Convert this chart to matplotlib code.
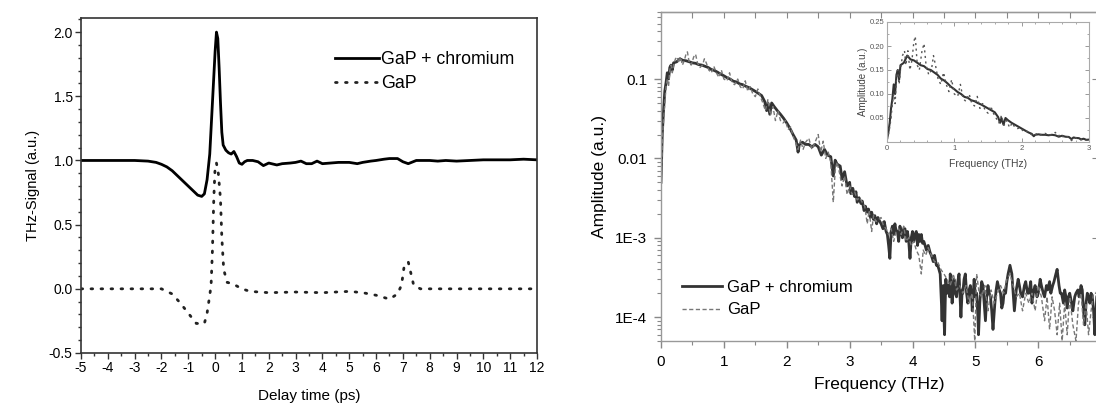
import numpy as np
import matplotlib
matplotlib.use('Agg')
import matplotlib.pyplot as plt
from matplotlib.ticker import MultipleLocator, LogLocator, NullFormatter, FixedLocator, FixedFormatter

plt.rcParams['font.family'] = ['Liberation Sans', 'DejaVu Sans']
plt.rcParams['axes.unicode_minus'] = False

# ---- left panel: time-domain THz signal ----
t_cr = [-5.0, -4.0, -3.0, -2.5, -2.2, -2.0, -1.8, -1.6, -1.4, -1.2, -1.0, -0.8, -0.65,
        -0.5, -0.4, -0.3, -0.2, -0.1, 0.0, 0.05, 0.1, 0.15, 0.2, 0.25, 0.3, 0.4, 0.5,
        0.6, 0.7, 0.8, 0.9, 1.0, 1.1, 1.2, 1.4, 1.6, 1.8, 2.0, 2.1, 2.3, 2.5, 2.8, 3.0,
        3.2, 3.4, 3.6, 3.8, 4.0, 4.3, 4.6, 5.0, 5.3, 5.5, 5.8, 6.0, 6.3, 6.5, 6.8, 7.0,
        7.2, 7.5, 8.0, 8.3, 8.6, 9.0, 9.5, 10.0, 10.5, 11.0, 11.5, 12.0]
sig_cr = [1.0, 1.0, 1.0, 0.995, 0.985, 0.97, 0.95, 0.92, 0.88, 0.84, 0.80, 0.76, 0.73,
          0.72, 0.74, 0.85, 1.05, 1.45, 1.85, 2.0, 1.95, 1.72, 1.45, 1.22, 1.12, 1.08, 1.06,
          1.05, 1.07, 1.03, 0.98, 0.97, 0.99, 1.0, 1.0, 0.99, 0.96, 0.98, 0.975, 0.965, 0.975, 0.98, 0.985,
          0.995, 0.975, 0.975, 0.995, 0.975, 0.98, 0.985, 0.985, 0.975, 0.985, 0.995, 1.0, 1.01, 1.015, 1.015, 0.99,
          0.975, 1.0, 1.0, 0.995, 1.0, 0.995, 1.0, 1.005, 1.005, 1.005, 1.01, 1.005]

t_gap = [-5.0, -4.0, -3.0, -2.0, -1.6, -1.3, -1.0, -0.7, -0.4, -0.3, -0.25, -0.2, -0.15,
         -0.1, -0.05, 0.0, 0.05, 0.12, 0.2, 0.25, 0.32, 0.45, 0.65, 1.0, 1.3, 2.0, 3.0,
         4.0, 5.0, 5.5, 6.0, 6.5, 6.8, 6.95, 7.05, 7.2, 7.4, 7.65, 8.0, 9.0, 10.0, 11.0, 12.0]
sig_gap = [0.0, 0.0, 0.0, 0.0, -0.04, -0.11, -0.19, -0.27, -0.27, -0.19, -0.12, -0.05, 0.03,
           0.3, 0.7, 0.95, 0.98, 0.9, 0.7, 0.4, 0.15, 0.05, 0.04, 0.0, -0.02, -0.03, -0.025,
           -0.03, -0.02, -0.03, -0.05, -0.08, -0.04, 0.03, 0.18, 0.21, 0.03, 0.0, 0.0, 0.0, 0.0, 0.0, 0.0]

# ---- right panel: amplitude spectra ----
f_cr = [0.00, 0.02, 0.04, 0.06, 0.08, 0.10, 0.12, 0.14, 0.16, 0.18, 0.20, 0.25, 0.30, 0.35, 0.40,
        0.45, 0.50, 0.55, 0.60, 0.65, 0.70, 0.75, 0.80, 0.85, 0.90, 0.95, 1.00, 1.05, 1.10, 1.15,
        1.20, 1.25, 1.30, 1.35, 1.40, 1.45, 1.50, 1.55, 1.60, 1.65, 1.68, 1.70, 1.73, 1.76, 1.80,
        1.85, 1.90, 1.95, 2.00, 2.05, 2.10, 2.15, 2.18, 2.20, 2.25, 2.30, 2.35, 2.40, 2.45, 2.50,
        2.55, 2.60, 2.65, 2.70, 2.74, 2.77, 2.80, 2.85, 2.88, 2.92,
        2.96, 3.00, 3.02, 3.05, 3.08, 3.10, 3.12, 3.15, 3.18, 3.20, 3.23, 3.25, 3.28, 3.30, 3.33,
        3.35, 3.38, 3.40, 3.43, 3.45, 3.48, 3.50, 3.53, 3.55, 3.58, 3.60, 3.62, 3.64, 3.66, 3.68,
        3.70, 3.72, 3.74, 3.76, 3.78, 3.80, 3.82, 3.84, 3.86, 3.88, 3.90, 3.92, 3.94, 3.96, 3.98,
        4.00, 4.02, 4.04, 4.06, 4.08, 4.10, 4.12, 4.14, 4.16, 4.18, 4.20, 4.22, 4.25, 4.28, 4.30,
        4.33, 4.35, 4.38, 4.40, 4.42, 4.44, 4.46, 4.47, 4.48, 4.49, 4.50, 4.51, 4.52, 4.53, 4.55,
        4.57, 4.59, 4.60, 4.62, 4.63, 4.65, 4.66, 4.68, 4.70, 4.72, 4.74, 4.76, 4.77, 4.79, 4.80,
        4.82, 4.84, 4.86, 4.88, 4.90, 4.92, 4.94, 4.95, 4.97, 4.98, 5.00, 5.02, 5.04, 5.05, 5.07,
        5.08, 5.10, 5.12, 5.14, 5.16, 5.18, 5.20, 5.22, 5.24, 5.26, 5.28, 5.30, 5.31, 5.33, 5.35,
        5.38, 5.40, 5.42, 5.44, 5.46, 5.48, 5.50, 5.52, 5.55, 5.58, 5.60, 5.62, 5.64, 5.65, 5.68,
        5.70, 5.72, 5.75, 5.78, 5.80, 5.83, 5.85, 5.88, 5.90, 5.93, 5.95, 5.98, 6.00, 6.03, 6.05,
        6.08, 6.10, 6.13, 6.15, 6.18, 6.20, 6.23, 6.25, 6.28, 6.30, 6.33, 6.35, 6.37, 6.40, 6.42,
        6.44, 6.46, 6.48, 6.50, 6.53, 6.55, 6.58, 6.60, 6.63, 6.65, 6.68, 6.70, 6.72, 6.74, 6.76,
        6.78, 6.80, 6.82, 6.84, 6.86, 6.88, 6.90, 6.92, 6.93, 6.95, 6.97]
amp_cr = [0.005, 0.02, 0.04, 0.07, 0.09, 0.12, 0.10, 0.14, 0.15, 0.13, 0.16, 0.165, 0.18, 0.172, 0.17,
          0.165, 0.16, 0.158, 0.152, 0.15, 0.145, 0.14, 0.132, 0.128, 0.122, 0.115, 0.11, 0.104, 0.10, 0.094,
          0.092, 0.087, 0.085, 0.081, 0.078, 0.074, 0.07, 0.066, 0.062, 0.052, 0.04, 0.05, 0.036, 0.05, 0.045,
          0.04, 0.036, 0.032, 0.028, 0.024, 0.02, 0.017, 0.012, 0.015, 0.016, 0.015, 0.015, 0.014, 0.015, 0.014,
          0.011, 0.013, 0.011, 0.0105, 0.006, 0.0095, 0.0085, 0.008, 0.0055, 0.0068,
          0.0045, 0.005, 0.0036, 0.0042, 0.0033, 0.0038, 0.0028, 0.0032, 0.0027, 0.0029, 0.0022, 0.0025, 0.0021, 0.0023, 0.0018,
          0.0021, 0.0017, 0.0019, 0.0015, 0.0018, 0.0016, 0.0015, 0.0013, 0.0016, 0.0012, 0.0011, 0.0008, 0.00055, 0.0012, 0.0014,
          0.0011, 0.0015, 0.0012, 0.0012, 0.0009, 0.0014, 0.0012, 0.0010, 0.0013, 0.0013, 0.0009, 0.0012, 0.0009, 0.00055, 0.0010,
          0.0012, 0.0009, 0.0011, 0.0012, 0.0008, 0.0011, 0.0009, 0.0011, 0.00085, 0.0009, 0.0008, 0.0007, 0.0008, 0.00065, 0.0006,
          0.0005, 0.0006, 0.00045, 0.00045, 0.0004, 0.00035, 0.00015, 0.00009, 0.0002, 0.00025, 0.0001, 0.00006, 0.00015, 0.0003, 0.0002,
          0.00025, 0.00018, 0.00035, 0.0002, 0.00015, 0.00025, 0.0003, 0.0002, 0.00018, 0.00028, 0.00035, 0.00015, 0.0001, 0.00022, 0.0002,
          0.0003, 0.00035, 0.0002, 0.00015, 0.00022, 0.00025, 0.00018, 0.00012, 0.00022, 0.0003, 0.00018, 0.0002, 0.0001, 0.00006, 0.00015,
          0.0002, 0.00028, 0.00025, 0.00015, 0.00009, 0.00018, 0.00025, 0.0002, 0.00018, 0.00012, 0.00007, 0.00012, 0.00015, 0.00022, 0.00028,
          0.00022, 0.0002, 0.00013, 0.00015, 0.00022, 0.0002, 0.00028, 0.00035, 0.00045, 0.00035, 0.0002, 0.00012, 0.00018, 0.00022, 0.0003,
          0.00025, 0.0002, 0.00018, 0.00025, 0.00028, 0.0002, 0.0002, 0.00028, 0.00015, 0.00022, 0.00025, 0.00018, 0.0002, 0.0003, 0.00025,
          0.0002, 0.00018, 0.00025, 0.00022, 0.00028, 0.0002, 0.00025, 0.00028, 0.00035, 0.0004, 0.00025, 0.0002, 0.0002, 0.00015, 0.00022,
          0.00018, 0.00013, 0.00018, 0.0002, 0.00015, 0.00012, 0.00018, 0.0002, 0.00022, 0.00018, 0.00025, 0.00022, 0.00012, 0.00008, 0.00015,
          0.0002, 0.00018, 0.00015, 0.0002, 0.00018, 0.00012, 0.00006, 0.00012, 0.00018, 0.0002, 0.00015]

f_gap = [0.00, 0.02, 0.04, 0.06, 0.08, 0.10, 0.12, 0.14, 0.16, 0.18, 0.20, 0.23, 0.26, 0.28, 0.31,
         0.34, 0.37, 0.40, 0.42, 0.45, 0.48, 0.52, 0.55, 0.58, 0.62, 0.66, 0.69, 0.72, 0.76, 0.80,
         0.84, 0.88, 0.92, 0.96, 1.00, 1.05, 1.09, 1.13, 1.17, 1.22, 1.26, 1.30, 1.34, 1.38, 1.42,
         1.46, 1.50, 1.54, 1.58, 1.62, 1.66, 1.70, 1.74, 1.78, 1.82, 1.86, 1.90, 1.94, 1.98, 2.02,
         2.06, 2.10, 2.14, 2.18, 2.22, 2.26, 2.30, 2.35, 2.40, 2.45, 2.50, 2.54, 2.58, 2.62, 2.66,
         2.70, 2.74, 2.77, 2.80, 2.84, 2.88, 2.92, 2.96, 3.00, 3.04, 3.08, 3.12, 3.16, 3.20, 3.24,
         3.28, 3.31, 3.35, 3.38, 3.42, 3.46, 3.50, 3.54, 3.58, 3.62, 3.66, 3.70, 3.74, 3.78, 3.82,
         3.86, 3.90, 3.94, 3.98, 4.02, 4.06, 4.10, 4.14, 4.17, 4.21, 4.25, 4.30, 4.35, 4.40, 4.45,
         4.50, 4.55, 4.60, 4.65, 4.70, 4.75, 4.80, 4.85, 4.90, 4.95, 4.99, 5.02, 5.06, 5.10, 5.15,
         5.20, 5.25, 5.30, 5.35, 5.40, 5.45, 5.50, 5.55, 5.60, 5.65, 5.70, 5.75, 5.80, 5.85, 5.90,
         5.95, 6.00, 6.05, 6.10, 6.14, 6.18, 6.22, 6.26, 6.30, 6.34, 6.38, 6.42, 6.46, 6.50, 6.55,
         6.60, 6.64, 6.68, 6.72, 6.76, 6.80, 6.84, 6.88, 6.92, 6.96]
amp_gap = [0.004, 0.015, 0.03, 0.05, 0.08, 0.10, 0.08, 0.13, 0.15, 0.12, 0.15, 0.18, 0.19, 0.16, 0.19,
           0.15, 0.17, 0.21, 0.22, 0.16, 0.15, 0.19, 0.205, 0.16, 0.14, 0.15, 0.18, 0.16, 0.13, 0.12,
           0.145, 0.12, 0.105, 0.13, 0.10, 0.095, 0.12, 0.09, 0.085, 0.10, 0.08, 0.075, 0.095, 0.07, 0.08,
           0.065, 0.06, 0.075, 0.06, 0.05, 0.04, 0.055, 0.035, 0.045, 0.03, 0.04, 0.03, 0.028, 0.03, 0.023,
           0.025, 0.019, 0.016, 0.013, 0.017, 0.013, 0.016, 0.018, 0.013, 0.016, 0.02, 0.012, 0.0165, 0.01, 0.012,
           0.009, 0.0028, 0.007, 0.009, 0.0065, 0.0045, 0.006, 0.0035, 0.0045, 0.0035, 0.0038, 0.003, 0.0032, 0.0028, 0.0025,
           0.0015, 0.0022, 0.0012, 0.0019, 0.0016, 0.0017, 0.0018, 0.0014, 0.0013, 0.0011, 0.0013, 0.0009, 0.0012, 0.0013, 0.0011,
           0.0014, 0.0009, 0.0010, 0.0008, 0.0009, 0.0007, 0.0006, 0.00035, 0.0007, 0.0006, 0.00075, 0.0006, 0.0005, 0.0005, 0.0004,
           0.00035, 0.0003, 0.00025, 0.00035, 0.00022, 0.00025, 0.0002, 0.00025, 0.00015, 0.0002, 0.00005, 0.00035, 0.0002, 0.00018, 0.00025,
           0.00012, 0.00022, 0.00015, 0.0002, 0.00025, 0.0002, 0.0003, 0.00035, 0.00025, 0.00018, 0.0002, 0.00012, 0.0002, 0.00015, 0.0002,
           0.00012, 0.00025, 0.00018, 0.00009, 0.00018, 0.00007, 0.00018, 0.00012, 0.00006, 0.00015, 0.00005, 0.00015, 0.00006, 0.00018, 0.00008,
           0.00005, 0.00015, 0.0002, 0.00008, 0.00015, 0.00006, 0.00012, 0.0002, 0.0002, 0.00025]

W, H = 1096, 403
fig = plt.figure(figsize=(W / 100, H / 100), dpi=100)

# left panel
ax1 = fig.add_axes([81 / W, (H - 353) / H, 456 / W, 335 / H])
ax1.plot(t_cr, sig_cr, color='black', lw=2.0, label='GaP + chromium')
ax1.plot(t_gap, sig_gap, color='#222222', lw=2.0, linestyle=(0, (0.6, 3.0)),
         dash_capstyle='round', label='GaP')
ax1.set_xlim(-5, 12)
ax1.set_ylim(-0.5, 2.11)
ax1.xaxis.set_major_locator(MultipleLocator(1))
ax1.xaxis.set_minor_locator(MultipleLocator(0.5))
ax1.yaxis.set_major_locator(MultipleLocator(0.5))
ax1.yaxis.set_minor_locator(MultipleLocator(0.1))
ax1.yaxis.set_major_formatter(plt.FormatStrFormatter('%.1f'))
ax1.tick_params(which='both', direction='out', width=1.0, labelsize=10, color='#333333', pad=2)
ax1.tick_params(which='major', length=4)
ax1.tick_params(which='minor', length=2.5)
for sp in ax1.spines.values():
    sp.set_linewidth(1.2)
    sp.set_color('#333333')
ax1.set_xlabel('Delay time (ps)', fontsize=11, labelpad=10)
ax1.set_ylabel('THz-Signal (a.u.)', fontsize=10.5, labelpad=6)
ax1.legend(loc='upper right', bbox_to_anchor=(0.985, 0.95), frameon=False, fontsize=12.8,
           handlelength=2.5, handletextpad=0.1, labelspacing=0.4)

# right panel
ax2 = fig.add_axes([661 / W, (H - 341) / H, (1098 - 661) / W, (341 - 12) / H])
ax2.semilogy(f_cr, amp_cr, color='#333333', lw=2.0, label='GaP + chromium')
ax2.semilogy(f_gap, amp_gap, color='#777777', lw=1.0, linestyle=(0, (3, 1.8)), label='GaP')
ax2.set_xlim(0, 6.95)
ax2.set_ylim(5e-5, 0.7)
ax2.xaxis.set_major_locator(MultipleLocator(1))
ax2.xaxis.set_minor_locator(MultipleLocator(0.5))
ax2.yaxis.set_major_locator(FixedLocator([1e-4, 1e-3, 1e-2, 1e-1]))
ax2.yaxis.set_major_formatter(FixedFormatter(['1E-4', '1E-3', '0.01', '0.1']))
ax2.yaxis.set_minor_locator(LogLocator(base=10, subs=np.arange(2, 10)))
ax2.yaxis.set_minor_formatter(NullFormatter())
ax2.tick_params(which='both', direction='out', color='#888888', labelsize=11, pad=5)
ax2.tick_params(which='major', length=5, width=1.0)
ax2.tick_params(which='minor', length=3, width=0.8)
for sp in ax2.spines.values():
    sp.set_color('#999999')
    sp.set_linewidth(1.0)
top = ax2.secondary_xaxis('top')
top.xaxis.set_major_locator(MultipleLocator(0.5))
top.tick_params(direction='in', length=4, color='#888888', labeltop=False)
right = ax2.secondary_yaxis('right')
right.yaxis.set_major_locator(FixedLocator([1e-4, 1e-3, 1e-2, 1e-1]))
right.yaxis.set_minor_locator(plt.NullLocator())
right.tick_params(direction='in', length=4, color='#888888', labelright=False)
ax2.set_xlabel('Frequency (THz)', fontsize=12.5, labelpad=6)
ax2.set_ylabel('Amplitude (a.u.)', fontsize=12.5, labelpad=6)
ax2.legend(loc='lower left', bbox_to_anchor=(0.014, 0.026), frameon=False, fontsize=12,
           handlelength=2.4, handletextpad=0.3, labelspacing=0.45)

# inset
ax3 = fig.add_axes([887 / W, (H - 142) / H, (1089 - 887) / W, (142 - 22) / H])
ax3.plot(f_cr, amp_cr, color='#333333', lw=1.5)
ax3.plot(f_gap, amp_gap, color='#555555', lw=1.0, linestyle=(0, (1.5, 2.5)))
ax3.set_xlim(0, 3)
ax3.set_ylim(0, 0.25)
ax3.xaxis.set_major_locator(MultipleLocator(1))
ax3.xaxis.set_minor_locator(MultipleLocator(0.2))
ax3.yaxis.set_major_locator(MultipleLocator(0.05))
ax3.yaxis.set_minor_locator(MultipleLocator(0.025))
ax3.yaxis.set_major_formatter(plt.FuncFormatter(lambda v, p: '' if v == 0 else '%.2f' % v))
ax3.tick_params(which='both', direction='in', top=True, right=True, color='#999999',
                labelsize=5.5, labelcolor='#555555', pad=2)
ax3.tick_params(which='major', length=3, width=0.7)
ax3.tick_params(which='minor', length=1.5, width=0.6)
for sp in ax3.spines.values():
    sp.set_color('#aaaaaa')
    sp.set_linewidth(0.8)
ax3.set_xlabel('Frequency (THz)', fontsize=7.5, color='#444444', labelpad=5)
ax3.set_ylabel('Amplitude (a.u.)', fontsize=7, color='#444444', labelpad=1)

fig.savefig('out.png', dpi=100)
